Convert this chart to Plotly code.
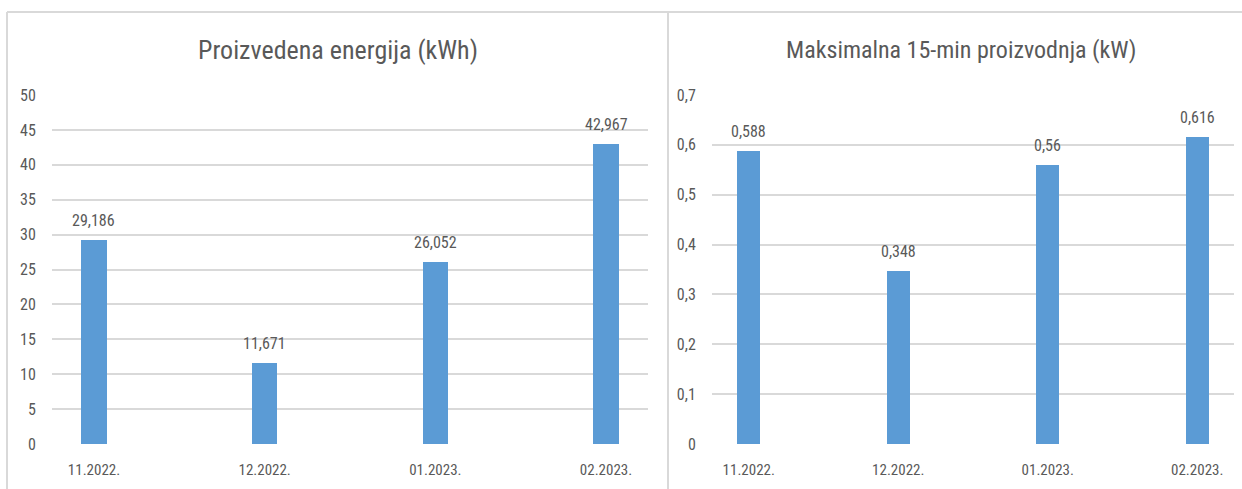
import plotly.graph_objects as go

categories = ["11.2022.", "12.2022.", "01.2023.", "02.2023."]
energy_kwh = [29.186, 11.671, 26.052, 42.967]
max_power_kw = [0.588, 0.348, 0.56, 0.616]
title_left = "Proizvedena energija (kWh)"
title_right = "Maksimalna 15-min proizvodnja (kW)"

W, H = 1242, 489
FONT = "Roboto Condensed, Roboto, sans-serif"
TXT = "#595959"
GRID = "#d9d9d9"
BAR = "#5b9bd5"

def px(x):
    return x / W

def py(y):
    return 1 - y / H

def lab(v):
    return f"{v:g}".replace(".", ",")

xpos = list(range(len(categories)))

fig = go.Figure()
fig.add_trace(go.Bar(x=xpos, y=energy_kwh, width=0.15,
                     marker=dict(color=BAR, line=dict(width=0)),
                     hoverinfo="skip", xaxis="x", yaxis="y"))
fig.add_trace(go.Bar(x=xpos, y=max_power_kw, width=0.155,
                     marker=dict(color=BAR, line=dict(width=0)),
                     hoverinfo="skip", xaxis="x2", yaxis="y2"))

for xr, yr, vals in (("x", "y", energy_kwh), ("x2", "y2", max_power_kw)):
    for xi, v in zip(xpos, vals):
        fig.add_annotation(x=xi, y=v, xref=xr, yref=yr, text=lab(v),
                           showarrow=False, yanchor="bottom", yshift=8,
                           font=dict(size=16, color=TXT, family=FONT))

ydom = [py(444), py(95)]
xax = dict(tickvals=xpos, ticktext=categories, range=[-0.246, 3.246],
           showgrid=False, zeroline=False, showline=False, automargin=False,
           ticks="outside", ticklen=12, tickcolor="rgba(0,0,0,0)",
           tickfont=dict(color=TXT, size=15, family=FONT), fixedrange=True)
yax_common = dict(showgrid=True, gridcolor=GRID, gridwidth=1.5, zeroline=False,
                  showline=False, ticks="outside", ticklen=12, automargin=False,
                  tickcolor="rgba(0,0,0,0)",
                  tickfont=dict(color=TXT, size=16, family=FONT), fixedrange=True)

fig.update_layout(
    width=W, height=H, autosize=False, margin=dict(l=0, r=0, t=0, b=0, pad=0),
    paper_bgcolor="white", plot_bgcolor="white",
    showlegend=False, separators=", ", bargap=0,
    xaxis=dict(domain=[px(52), px(648)], anchor="y", **xax),
    yaxis=dict(domain=ydom, anchor="x", range=[0, 50], dtick=5, **yax_common),
    xaxis2=dict(domain=[px(712), px(1234)], anchor="y2", **xax),
    yaxis2=dict(domain=ydom, anchor="x2", range=[0, 0.7], dtick=0.1,
                tickformat=".1~f", **yax_common),
    font=dict(family=FONT, color=TXT),
)

# panel borders
line = dict(color=GRID, width=2)
fig.add_shape(type="line", xref="paper", yref="paper", x0=px(7), x1=1, y0=py(12), y1=py(12), line=line)
fig.add_shape(type="line", xref="paper", yref="paper", x0=px(7), x1=px(7), y0=py(12), y1=0, line=line)
fig.add_shape(type="line", xref="paper", yref="paper", x0=px(668), x1=px(668), y0=py(12), y1=0, line=line)

fig.add_annotation(text=title_left, xref="paper", yref="paper", x=px(338), y=py(50),
                   showarrow=False, font=dict(size=26, color=TXT, family=FONT),
                   xanchor="center", yanchor="middle")
fig.add_annotation(text=title_right, xref="paper", yref="paper", x=px(961), y=py(50),
                   showarrow=False, font=dict(size=24, color=TXT, family=FONT),
                   xanchor="center", yanchor="middle")

fig.write_html("out.html", config={"displayModeBar": False})
